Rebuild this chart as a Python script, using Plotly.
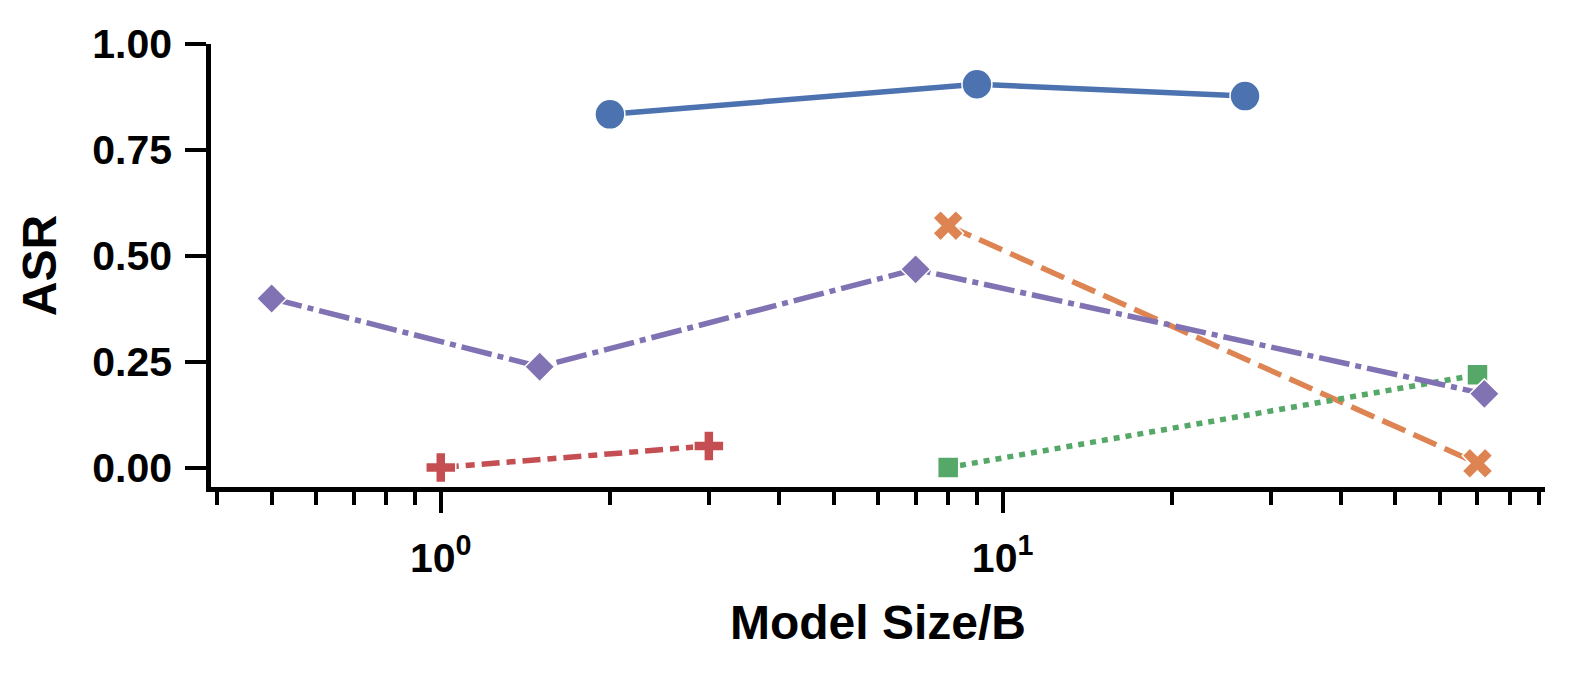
import numpy as np
import plotly.graph_objects as go

# Model sizes (B) and ASR, one list per series
blue_x = [2, 9, 27]
blue_y = [0.834, 0.905, 0.877]

orange_x = [8, 70]
orange_y = [0.571, 0.010]

green_x = [8, 70]
green_y = [0.0, 0.219]

red_x = [1, 3]
red_y = [0.0, 0.051]

purple_x = [0.5, 1.5, 7, 72]
purple_y = [0.399, 0.238, 0.468, 0.174]

# Tick labels
x_tick_vals = [1, 10]
x_tick_text = ['10<sup>0</sup>', '10<sup>1</sup>']
x_minor_vals = [0.4, 0.5, 0.6, 0.7, 0.8, 0.9, 2, 3, 4, 5, 6, 7, 8, 9,
                20, 30, 40, 50, 60, 70, 80, 90]
y_tick_vals = [0, 0.25, 0.5, 0.75, 1.0]

FONT = 'Liberation Sans, Arial, sans-serif'

series = [
    # x, y, colour, symbol, size, dash
    (blue_x, blue_y, '#4C72B0', 'circle', 30, 'solid'),
    (orange_x, orange_y, '#DD8452', 'x', 27, '25px,9px'),
    (green_x, green_y, '#55A868', 'square', 21, '6px,6px'),
    (red_x, red_y, '#C44E52', 'cross', 25, '18px,7px,9px,7px'),
    (purple_x, purple_y, '#8172B3', 'diamond', 23, '31px,6px,6px,6px'),
]

# Build traces
data = []
for x, y, color, symbol, size, dash in series:
    trace = go.Scatter(x=x, y=y, mode='lines+markers', showlegend=False,
                       line={'color': color, 'width': 5.5, 'dash': dash},
                       marker={'symbol': symbol, 'size': size, 'color': color,
                               'line': {'color': 'white', 'width': 1.5}})
    data.append(trace)

# matplotlib-like 5% margin on the log axis
all_x = blue_x + orange_x + green_x + red_x + purple_x
lo, hi = np.log10(min(all_x)), np.log10(max(all_x))
pad = 0.05 * (hi - lo)

# page body adds 8px, so the figure is 8px smaller than the window
layout = {
    'width': 1570,
    'height': 666,
    'margin': dict(l=203, r=33, t=36, b=187),
    'plot_bgcolor': 'white',
    'paper_bgcolor': 'white',
    'font': dict(family=FONT, size=41, color='black', weight='bold'),
}

fig = go.Figure(data=data, layout=layout)
fig.update_xaxes(type='log', range=[lo - pad, hi + pad],
                 showline=True, linecolor='black', linewidth=4.5,
                 showgrid=False, zeroline=False,
                 ticks='outside', ticklen=21, tickwidth=4, tickcolor='black',
                 tickvals=x_tick_vals, ticktext=x_tick_text, ticklabelstandoff=10,
                 minor=dict(tickvals=x_minor_vals, ticks='outside', ticklen=13,
                            tickwidth=3.5, tickcolor='black', showgrid=False),
                 title=dict(text='Model Size/B', standoff=27,
                            font=dict(family=FONT, size=48, weight='bold')))
fig.update_yaxes(range=[-0.046, 1.0],
                 showline=True, linecolor='black', linewidth=4.5,
                 showgrid=False, zeroline=False,
                 ticks='outside', ticklen=21, tickwidth=4, tickcolor='black',
                 tickvals=y_tick_vals, tickformat='.2f', ticklabelstandoff=5,
                 title=dict(text='ASR', standoff=22,
                            font=dict(family=FONT, size=48, weight='bold')))

fig.write_html('out.html')
